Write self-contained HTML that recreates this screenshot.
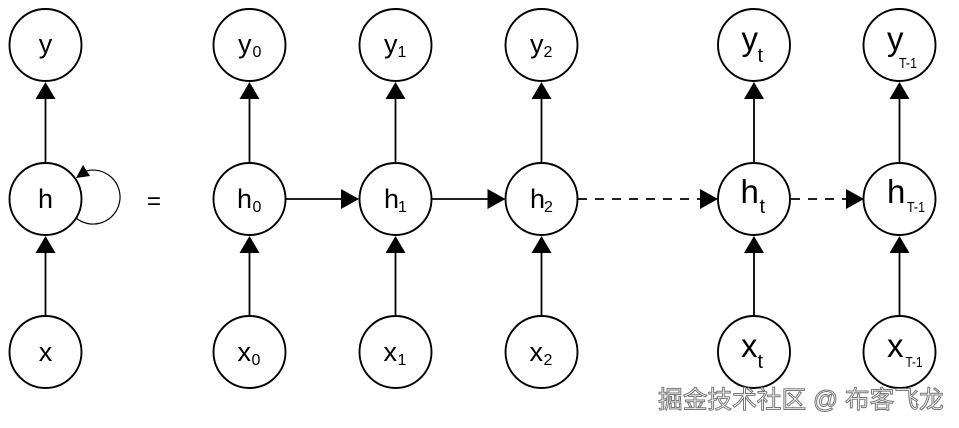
<!DOCTYPE html>
<html><head><meta charset="utf-8">
<style>
html,body{margin:0;padding:0;background:#fff;width:959px;height:428px;overflow:hidden}
svg{display:block;filter:blur(.35px)}
text{fill:#000}
.a{font-family:"Liberation Sans",sans-serif;font-size:27px}
.s{font-family:"Liberation Sans",sans-serif;font-size:16px}
.b{font-family:"Liberation Sans",sans-serif;font-size:33px}
.m{font-family:"Liberation Sans",sans-serif;font-size:20px}
.e{font-family:"Liberation Sans",sans-serif;font-size:24px}
.t{font-family:"Liberation Sans",sans-serif;font-size:15px;fill:#222}
.w{font-family:"Liberation Sans","Noto Sans CJK SC",sans-serif;font-size:24.7px;fill:#fff;stroke:#777;stroke-width:1px}
</style></head><body>
<svg width="959" height="428" viewBox="0 0 959 428" xmlns="http://www.w3.org/2000/svg">
<rect width="959" height="428" fill="#fff"/>
<path d="M86 171A27 27 0 1 1 76 218" fill="none" stroke="#000" stroke-width="1.2"/>
<path d="M76 178L90 176L83 165Z" fill="#000"/>
<g fill="#fff" stroke="#000" stroke-width="1.9">
<circle cx="45.5" cy="45" r="36"/><circle cx="45.5" cy="199" r="36"/><circle cx="45.5" cy="352" r="36"/>
<circle cx="249.5" cy="45" r="36"/><circle cx="249.5" cy="199" r="36"/><circle cx="249.5" cy="352" r="36"/>
<circle cx="395.5" cy="45" r="36"/><circle cx="395.5" cy="199" r="36"/><circle cx="395.5" cy="352" r="36"/>
<circle cx="541.5" cy="45" r="36"/><circle cx="541.5" cy="199" r="36"/><circle cx="541.5" cy="352" r="36"/>
<circle cx="754" cy="45" r="36"/><circle cx="754" cy="199" r="36"/><circle cx="754" cy="352" r="36"/>
<circle cx="899.5" cy="45" r="36"/><circle cx="899.5" cy="199" r="36"/><circle cx="899.5" cy="352" r="36"/>
</g>
<g stroke="#000" stroke-width="1.8" fill="none">
<path d="M45.5 163V98M45.5 316V252M249.5 163V98M249.5 316V252M395.5 163V98M395.5 316V252M541.5 163V98M541.5 316V252M754 163V98M754 316V252M899.5 163V98M899.5 316V252"/>
<path d="M286 199H343M432 199H489"/>
<path d="M578 199H702M791 199H848" stroke-dasharray="9 8"/>
</g>
<g fill="#000">
<path d="M45.5 82L35.5 99H55.5ZM45.5 236L35.5 253H55.5Z"/>
<path d="M249.5 82L239.5 99H259.5ZM249.5 236L239.5 253H259.5Z"/>
<path d="M395.5 82L385.5 99H405.5ZM395.5 236L385.5 253H405.5Z"/>
<path d="M541.5 82L531.5 99H551.5ZM541.5 236L531.5 253H551.5Z"/>
<path d="M754 82L744 99H764ZM754 236L744 253H764Z"/>
<path d="M899.5 82L889.5 99H909.5ZM899.5 236L889.5 253H909.5Z"/>
<path d="M359 199L341 189V209ZM505.5 199L487.5 189V209ZM718 199L700 189V209ZM864 199L846 189V209Z"/>
</g>
<g class="a" text-anchor="middle">
<text x="45.5" y="53">y</text><text x="45.5" y="208">h</text><text x="45.5" y="361">x</text>
</g>
<text x="154" y="209" text-anchor="middle" class="e">=</text>
<g class="a">
<text x="238" y="53">y</text><text x="237" y="208">h</text><text x="237.5" y="361">x</text>
<text x="384" y="53">y</text><text x="384" y="208">h</text><text x="383.5" y="361">x</text>
<text x="530" y="53">y</text><text x="530" y="208">h</text><text x="529.5" y="361">x</text>
</g>
<g class="s">
<text x="252.5" y="57">0</text><text x="252.5" y="212">0</text><text x="251.5" y="365">0</text>
<text x="397.5" y="57">1</text><text x="398" y="212">1</text><text x="397.5" y="365">1</text>
<text x="543.5" y="57">2</text><text x="544" y="212">2</text><text x="543.5" y="365">2</text>
</g>
<g class="b">
<text x="741.5" y="50">y</text><text x="740.5" y="203">h</text><text x="741" y="357">x</text>
<text x="887" y="50">y</text><text x="887" y="203">h</text><text x="887" y="357">x</text>
</g>
<g class="m">
<text x="757.5" y="62">t</text><text x="759.5" y="213">t</text><text x="757.5" y="368">t</text>
</g>
<g class="t">
<text x="899" y="68" textLength="18" lengthAdjust="spacingAndGlyphs">T-1</text>
<text x="907" y="212" textLength="18" lengthAdjust="spacingAndGlyphs">T-1</text>
<text x="905.5" y="367" textLength="17" lengthAdjust="spacingAndGlyphs">T-1</text>
</g>
<text x="658" y="408" class="w">掘金技术社区 @ 布客飞龙</text>
</svg>
</body></html>
